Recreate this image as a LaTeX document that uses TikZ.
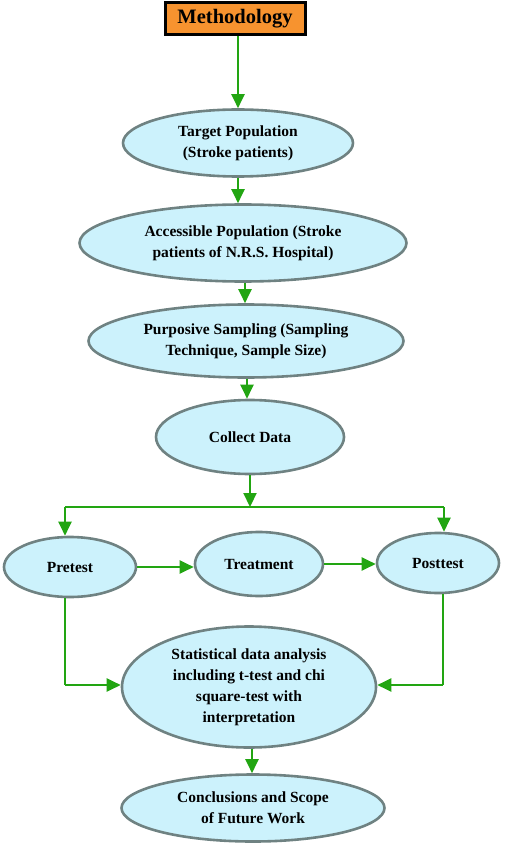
\documentclass[tikz,border=0pt]{standalone}
\usepackage{fontspec}
\setmainfont{Liberation Serif}
\usetikzlibrary{shapes.geometric,arrows.meta}
\definecolor{ellfill}{HTML}{CCF2FC}
\definecolor{elldraw}{HTML}{6F8282}
\definecolor{arrgreen}{HTML}{22A512}
\definecolor{boxorange}{HTML}{F7932F}
\begin{document}
\begin{tikzpicture}[x=1pt,y=-1pt,
  ell/.style={ellipse,draw=elldraw,fill=ellfill,line width=2.6pt,inner sep=0pt,align=center,font=\bfseries\fontsize{15.5}{21}\selectfont},
  arr/.style={draw=arrgreen,line width=2.2pt,-{Triangle[length=14pt,width=13pt]}},
  ln/.style={draw=arrgreen,line width=2.2pt}]
\useasboundingbox (0,0) rectangle (505,850);
\node[draw=black,line width=3pt,fill=boxorange,minimum width=140pt,minimum height=32pt,inner sep=0pt,font=\bfseries\fontsize{20.5}{24}\selectfont] (meth) at (235,19) {Methodology};
\node[ell,minimum width=230pt,minimum height=67pt] (target) at (238,143) {Target Population\\(Stroke patients)};
\node[ell,minimum width=327pt,minimum height=77pt] (access) at (243,243) {Accessible Population (Stroke\\patients of N.R.S. Hospital)};
\node[ell,minimum width=315pt,minimum height=73pt] (purp) at (246,341) {Purposive Sampling (Sampling\\Technique, Sample Size)};
\node[ell,minimum width=188pt,minimum height=74pt] (collect) at (250,437) {Collect Data};
\node[ell,minimum width=132pt,minimum height=60pt] (pre) at (70,567) {Pretest};
\node[ell,minimum width=128pt,minimum height=64pt] (treat) at (259,564) {Treatment};
\node[ell,minimum width=122pt,minimum height=60pt] (post) at (438,563) {Posttest};
\node[ell,minimum width=254pt,minimum height=121pt] (stat) at (249,687) {Statistical data analysis\\including t-test and chi\\square-test with\\interpretation};
\node[ell,minimum width=263pt,minimum height=67pt] (concl) at (253,808) {Conclusions and Scope\\of Future Work};
\coordinate (br) at (250,507);
\coordinate (brl) at (65,507);
\coordinate (brr) at (444,507);
\coordinate (pl) at (65,685);
\coordinate (pr) at (443,685);
\draw[arr] (meth.south -| target.north) -- (target.north);
\draw[arr] (238,0 |- target.south) -- (238,0 |- access.north);
\draw[arr] (245,0 |- access.south) -- (245,0 |- purp.north);
\draw[arr] (247,0 |- purp.south) -- (247,0 |- collect.north);
\draw[arr] (collect.south) -- (br);
\draw[ln] (brl) -- (brr);
\draw[arr] (brl) -- (brl |- pre.north);
\draw[arr] (brr) -- (brr |- post.north);
\draw[arr] (pre.east) -- (treat.west |- pre.east);
\draw[arr] (treat.east) -- (post.west |- treat.east);
\draw[ln] (pre.south -| pl) -- (pl);
\draw[arr] (pl) -- (stat.west |- pl);
\draw[ln] (post.south -| pr) -- (pr);
\draw[arr] (pr) -- (stat.east |- pr);
\draw[arr] (252,0 |- stat.south) -- (252,0 |- concl.north);
\end{tikzpicture}
\end{document}
